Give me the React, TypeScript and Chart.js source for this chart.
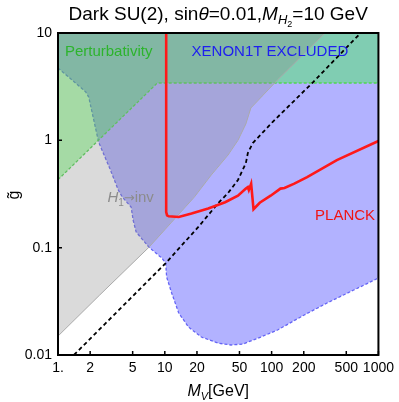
import React, { useEffect, useRef } from "react";
import { Chart, registerables } from "chart.js";

Chart.register(...registerables);

const FONT = '"Liberation Sans", Arial, sans-serif';
const ARROW_FONT = '"DejaVu Sans", "Liberation Sans", sans-serif';

// axis ticks
const X_TICKS = [1, 2, 5, 10, 20, 50, 100, 200, 500, 1000];
const X_TICK_LABELS = ["1.", "2", "5", "10", "20", "50", "100", "200", "500", "1000"];
const Y_TICKS = [0.01, 0.1, 1, 10];
const Y_TICK_LABELS = ["0.01", "0.1", "1", "10"];
const X_MIN = 1;
const X_MAX = 1000;
const Y_MIN = 0.01;
const Y_MAX = 10;

// XENON1T excluded region: lower/left boundary (M_V [GeV], g)
const XENON_BOUNDARY: [number, number][] = [
  [1, 4.72], [1.29, 3.81], [1.82, 2.82], [1.94, 2.53], [2.4, 0.964], [3.1, 0.528],
  [3.67, 0.344], [4.0, 0.296], [4.84, 0.239], [5.05, 0.181], [5.39, 0.14], [7.11, 0.101],
  [9.38, 0.08], [10.2, 0.0718], [10.4, 0.0532], [11.6, 0.0378], [13.5, 0.0246],
  [16.7, 0.0182], [22, 0.0147], [31.6, 0.0129], [41.7, 0.0124], [53.9, 0.01265],
  [79.1, 0.0147], [113.6, 0.0171], [202, 0.0236], [330, 0.0305], [587, 0.0403], [1000, 0.0521],
];

// Perturbativity limit (region above)
const PERTURB_BOUNDARY: [number, number][] = [[1, 0.43], [8.5, 3.42], [1000, 3.42]];

// H1 -> invisible limit (region above-left)
const HINV_BOUNDARY: [number, number][] = [
  [1, 0.015], [2.45, 0.0361], [7.11, 0.101], [11.6, 0.173], [18.9, 0.296], [27.2, 0.475],
  [39.1, 0.73], [48.4, 1.0], [57.4, 1.42], [63.9, 2.0], [113.6, 3.65], [316, 10],
];

// black dashed curve
const DASHED_CURVE: [number, number][] = [
  [1.41, 0.01], [10.2, 0.0718], [20.6, 0.156], [31.6, 0.26], [39.1, 0.323], [48.4, 0.427],
  [57.4, 0.614], [59.9, 0.762], [66.7, 0.944], [102, 1.48], [240, 3.42], [681, 10],
];

// PLANCK relic curve
const PLANCK_CURVE: [number, number][] = [
  [10.3, 10], [10.3, 0.215], [10.5, 0.2], [10.9, 0.196], [13.5, 0.193], [17.8, 0.208],
  [25.5, 0.232], [36.7, 0.265], [48.4, 0.305], [57.4, 0.355], [59.9, 0.367], [61.2, 0.344],
  [64.3, 0.395], [67.7, 0.228], [77.4, 0.262], [97.9, 0.305], [121, 0.355], [132, 0.36],
  [163, 0.395], [215, 0.455], [408, 0.655], [1000, 0.985],
];

const pts = (a: [number, number][]) => a.map(([x, y]) => ({ x, y }));

type Seg = { text: string; size: number; italic?: boolean; dy?: number; family?: string };

function drawRich(ctx: CanvasRenderingContext2D, segs: Seg[], x: number, y: number, align: "left" | "center") {
  const fontOf = (s: Seg) => `${s.italic ? "italic " : ""}${s.size}px ${s.family || FONT}`;
  let w = 0;
  for (const s of segs) {
    ctx.font = fontOf(s);
    w += ctx.measureText(s.text).width;
  }
  let cx = align === "center" ? x - w / 2 : x;
  ctx.textAlign = "left";
  ctx.textBaseline = "alphabetic";
  for (const s of segs) {
    ctx.font = fontOf(s);
    ctx.fillText(s.text, cx, y + (s.dy || 0));
    cx += ctx.measureText(s.text).width;
  }
}

const decorPlugin = {
  id: "decor",
  afterDatasetsDraw(chart: any) {
    const ctx: CanvasRenderingContext2D = chart.ctx;
    const { left, right, top, bottom } = chart.chartArea;
    const xs = chart.scales.x;
    const ys = chart.scales.y;
    ctx.save();

    // in-plot labels
    ctx.fillStyle = "rgb(45,180,45)";
    drawRich(ctx, [{ text: "Perturbativity", size: 15 }], xs.getPixelForValue(1.16), ys.getPixelForValue(6.1), "left");
    ctx.fillStyle = "rgb(30,30,240)";
    drawRich(ctx, [{ text: "XENON1T EXCLUDED", size: 15 }], xs.getPixelForValue(17.8), ys.getPixelForValue(6.1), "left");
    ctx.fillStyle = "rgb(140,140,140)";
    drawRich(
      ctx,
      [
        { text: "H", size: 15, italic: true },
        { text: "1", size: 10, dy: 4 },
        { text: "→", size: 13, family: ARROW_FONT },
        { text: "inv", size: 15 },
      ],
      xs.getPixelForValue(2.9),
      ys.getPixelForValue(0.266),
      "left"
    );
    ctx.fillStyle = "rgb(240,20,20)";
    drawRich(ctx, [{ text: "PLANCK", size: 15 }], xs.getPixelForValue(255), ys.getPixelForValue(0.181), "left");

    // frame
    ctx.strokeStyle = "#000";
    ctx.lineWidth = 2;
    ctx.strokeRect(left, top, right - left, bottom - top);

    // inward ticks
    ctx.lineWidth = 1.5;
    ctx.beginPath();
    for (const v of X_TICKS) {
      const px = xs.getPixelForValue(v);
      ctx.moveTo(px, bottom);
      ctx.lineTo(px, bottom - 4);
    }
    for (const v of Y_TICKS) {
      const py = ys.getPixelForValue(v);
      ctx.moveTo(left, py);
      ctx.lineTo(left + 4, py);
    }
    ctx.stroke();

    // title
    ctx.fillStyle = "#000";
    drawRich(
      ctx,
      [
        { text: "Dark SU(2), sin", size: 19 },
        { text: "θ", size: 19, italic: true },
        { text: "=0.01,", size: 19 },
        { text: "M", size: 19, italic: true },
        { text: "H", size: 13, italic: true, dy: 4 },
        { text: "2", size: 9, dy: 7 },
        { text: "=10 GeV", size: 19 },
      ],
      (left + right) / 2,
      20,
      "center"
    );

    // x title
    drawRich(
      ctx,
      [
        { text: "M", size: 16, italic: true },
        { text: "V", size: 11, italic: true, dy: 4 },
        { text: "[GeV]", size: 16 },
      ],
      (left + right) / 2,
      396,
      "center"
    );

    // y title
    ctx.save();
    ctx.translate(15, (top + bottom) / 2 + 1);
    ctx.rotate(-Math.PI / 2);
    ctx.font = `16px ${FONT}`;
    ctx.textAlign = "center";
    ctx.textBaseline = "middle";
    ctx.fillText("g\u0303", 0, 0);
    ctx.restore();

    ctx.restore();
  },
};

export default function App() {
  const ref = useRef<HTMLCanvasElement | null>(null);

  useEffect(() => {
    if (!ref.current) return;
    Chart.defaults.font.family = FONT;

    const corner = (a: [number, number][], extra: [number, number][]) => pts([...a, ...extra, a[0]]);

    const fillDs = (data: any[], color: string, order: number) => ({
      data,
      showLine: true,
      fill: "shape",
      backgroundColor: color,
      borderColor: "rgba(0,0,0,0)",
      borderWidth: 0,
      pointRadius: 0,
      order,
    });
    const lineDs = (data: any[], color: string, width: number, dash: number[], order: number) => ({
      data,
      showLine: true,
      fill: false,
      borderColor: color,
      borderWidth: width,
      borderDash: dash,
      pointRadius: 0,
      tension: 0,
      order,
    });

    const chart = new Chart(ref.current, {
      type: "scatter",
      data: {
        datasets: [
          fillDs(corner(XENON_BOUNDARY, [[X_MAX, Y_MAX], [X_MIN, Y_MAX]]), "rgba(0,0,255,0.3)", 20),
          lineDs(pts(XENON_BOUNDARY), "rgb(100,100,245)", 1.3, [3, 2], 19),
          fillDs(corner(PERTURB_BOUNDARY, [[X_MAX, Y_MAX], [X_MIN, Y_MAX]]), "rgba(35,255,35,0.35)", 18),
          lineDs(pts(PERTURB_BOUNDARY), "rgb(80,215,80)", 1.3, [3, 2], 17),
          fillDs(corner(HINV_BOUNDARY, [[X_MIN, Y_MAX]]), "rgba(135,135,135,0.31)", 16),
          lineDs(pts(HINV_BOUNDARY), "rgb(170,170,170)", 1, [], 15),
          lineDs(pts(DASHED_CURVE), "#000", 1.8, [4, 3], 14),
          lineDs(pts(PLANCK_CURVE), "rgb(255,25,25)", 2.6, [], 13),
        ] as any,
      },
      options: {
        animation: false,
        responsive: false,
        maintainAspectRatio: false,
        layout: { padding: { top: 33, right: 17, left: 0, bottom: 0 } },
        plugins: {
          legend: { display: false },
          tooltip: { enabled: false },
          title: { display: false },
        },
        scales: {
          x: {
            type: "logarithmic",
            position: "bottom",
            min: X_MIN,
            max: X_MAX,
            afterBuildTicks: (s: any) => {
              s.ticks = X_TICKS.map((v) => ({ value: v }));
            },
            afterFit: (s: any) => {
              s.height = 47;
            },
            grid: { display: false, drawTicks: false },
            border: { display: false },
            ticks: {
              autoSkip: false,
              maxRotation: 0,
              padding: 5,
              color: "#000",
              font: { size: 14, family: FONT },
              callback: (_v: any, i: number) => X_TICK_LABELS[i],
            },
          },
          y: {
            type: "logarithmic",
            position: "left",
            min: Y_MIN,
            max: Y_MAX,
            afterBuildTicks: (s: any) => {
              s.ticks = Y_TICKS.map((v) => ({ value: v }));
            },
            afterFit: (s: any) => {
              s.width = 58;
            },
            grid: { display: false, drawTicks: false },
            border: { display: false },
            ticks: {
              autoSkip: false,
              padding: 6,
              color: "#000",
              font: { size: 14, family: FONT },
              callback: (_v: any, i: number) => Y_TICK_LABELS[i],
            },
          },
        },
      } as any,
      plugins: [decorPlugin],
    });
    return () => chart.destroy();
  }, []);

  return (
    <div style={{ position: "fixed", left: 0, top: 0, width: 399, height: 402, background: "#fff" }}>
      <canvas ref={ref} width={399} height={402} style={{ display: "block", width: 399, height: 402 }} />
    </div>
  );
}
